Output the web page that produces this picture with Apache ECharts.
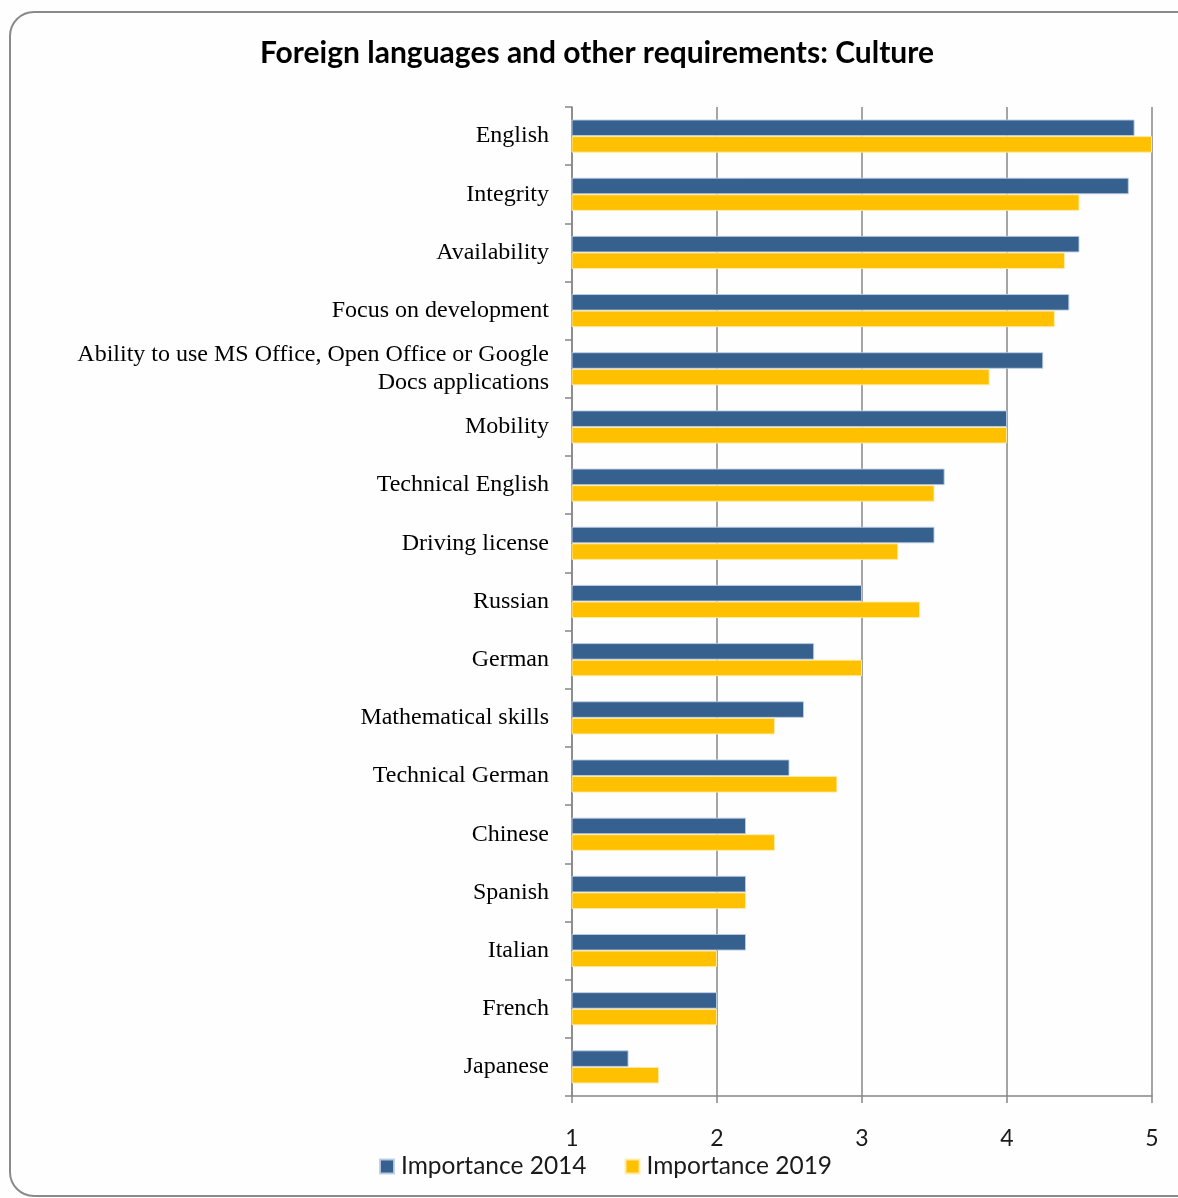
<!DOCTYPE html>
<html>
<head>
<meta charset="utf-8">
<title>Foreign languages and other requirements: Culture</title>
<script src="https://cdn.jsdelivr.net/npm/echarts@6/dist/echarts.min.js"></script>
<style>
  html, body { margin: 0; padding: 0; background: #ffffff; }
  #chart { width: 1178px; height: 1198px; }
</style>
</head>
<body>
<div id="chart"></div>
<script>
// Requirement categories, listed top to bottom
const categories = [
  'English',
  'Integrity',
  'Availability',
  'Focus on development',
  'Ability to use MS Office, Open Office or Google\nDocs applications',
  'Mobility',
  'Technical English',
  'Driving license',
  'Russian',
  'German',
  'Mathematical skills',
  'Technical German',
  'Chinese',
  'Spanish',
  'Italian',
  'French',
  'Japanese'
];

// Average importance rating (scale 1-5)
const importance2014 = [4.88, 4.84, 4.5, 4.43, 4.25, 4.0, 3.57, 3.5, 3.0, 2.67, 2.6, 2.5, 2.2, 2.2, 2.2, 2.0, 1.39];
const importance2019 = [5.0, 4.5, 4.4, 4.33, 3.88, 4.0, 3.5, 3.25, 3.4, 3.0, 2.4, 2.83, 2.4, 2.2, 2.0, 2.0, 1.6];

const seriesNames = ['Importance 2014', 'Importance 2019'];
const xTicks = [1, 2, 3, 4, 5];

const chart = echarts.init(document.getElementById('chart'), null, { renderer: 'canvas' });

const axisGray = '#878787';

chart.setOption({
  backgroundColor: '#fefefe',
  animation: false,
  graphic: [{
    type: 'rect',
    shape: { x: 10, y: 12, width: 1190, height: 1184, r: 24 },
    style: { fill: 'none', stroke: '#8a8a8a', lineWidth: 2 },
    silent: true,
    z: -1
  }],
  title: {
    text: 'Foreign languages and other requirements: Culture',
    left: 597,
    textAlign: 'center',
    top: 38,
    padding: 0,
    textStyle: {
      fontFamily: 'Lato',
      fontWeight: 'bold',
      fontSize: 30,
      color: '#000000'
    }
  },
  legend: {
    data: seriesNames,
    left: 379,
    top: 1154,
    padding: 0,
    icon: 'rect',
    itemWidth: 14,
    itemHeight: 14,
    itemGap: 38,
    textStyle: {
      fontFamily: 'Lato',
      fontSize: 24.5,
      color: '#1a1a1a',
      padding: [0, 0, 0, 2]
    }
  },
  grid: {
    left: 572,
    right: 26,
    top: 107,
    bottom: 102,
    containLabel: false
  },
  xAxis: {
    type: 'value',
    min: xTicks[0],
    max: xTicks[xTicks.length - 1],
    interval: 1,
    axisLine: { show: true, lineStyle: { color: axisGray, width: 1.5 } },
    axisTick: { show: true, length: 7, lineStyle: { color: axisGray, width: 1.5 } },
    axisLabel: {
      margin: 31,
      fontFamily: 'Lato',
      fontSize: 23,
      color: '#1a1a1a'
    },
    splitLine: { show: true, lineStyle: { color: axisGray, width: 1.5 } }
  },
  yAxis: {
    type: 'category',
    data: categories,
    inverse: true,
    axisLine: { show: true, lineStyle: { color: axisGray, width: 1.5 } },
    axisTick: { show: true, length: 7, lineStyle: { color: axisGray, width: 1.5 } },
    axisLabel: {
      margin: 23,
      fontFamily: 'Liberation Serif',
      fontSize: 24,
      lineHeight: 28,
      color: '#000000',
      align: 'right'
    },
    splitLine: { show: false }
  },
  series: [
    {
      name: seriesNames[0],
      type: 'bar',
      data: importance2014,
      barGap: '0%',
      barCategoryGap: '43%',
      itemStyle: { color: '#36618f', borderColor: 'rgba(190,205,228,0.9)', borderWidth: 1 }
    },
    {
      name: seriesNames[1],
      type: 'bar',
      data: importance2019,
      itemStyle: { color: '#ffc000', borderColor: 'rgba(255,236,170,0.9)', borderWidth: 1 }
    }
  ]
});
</script>
</body>
</html>
